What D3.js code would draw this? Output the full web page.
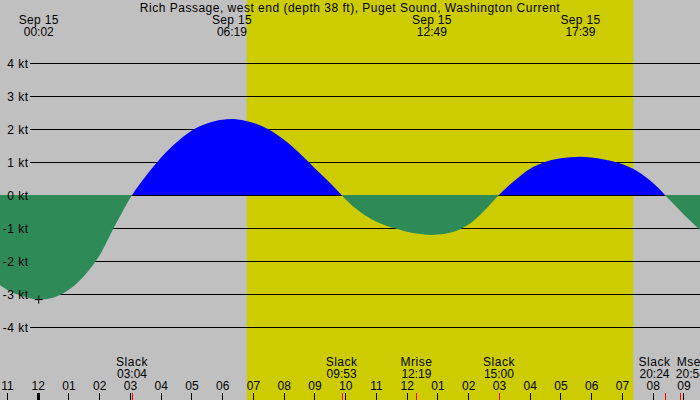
<!DOCTYPE html>
<html><head><meta charset="utf-8">
<script src="https://cdn.jsdelivr.net/npm/d3@7"></script>
<style>
html,body{margin:0;padding:0;background:#c0c0c0;overflow:hidden}
svg{display:block;font-family:"Liberation Sans",Arial,sans-serif;font-size:12px}
.wide{letter-spacing:0.5px}
</style></head><body>
<svg id="chart" width="700" height="400"></svg>
<script>
// ---- data ----
const title = "Rich Passage, west end (depth 38 ft), Puget Sound, Washington Current";
const dayLabel = "Sep 15";
const viewHours = [-1.226, 21.538];            // visible span, hours from midnight Sep 15
const daylight = ["06:48", "19:22"];            // sunrise, sunset
const curveHours = [-1.23, -1.0, -0.5, 0.03, 0.5, 1.0, 1.5, 2.0, 2.5, 3.07,
  3.5, 4.0, 4.5, 5.0, 5.5, 6.0, 6.32, 6.5, 7.0, 7.5, 8.0, 8.5, 9.0, 9.5, 9.88,
  10.0, 10.5, 11.0, 11.5, 12.0, 12.5, 12.82, 13.0, 13.5, 14.0, 14.5, 15.0,
  15.5, 16.0, 16.5, 17.0, 17.65, 18.0, 18.5, 19.0, 19.5, 20.0, 20.4,
  20.5, 21.0, 21.54];
const curveKnots = [-2.73, -2.87, -3.06, -3.17, -3.11, -2.88, -2.46, -1.85, -0.95, 0,
  0.55, 1.12, 1.58, 1.95, 2.17, 2.28, 2.30, 2.29, 2.19, 1.99, 1.68, 1.28, 0.82, 0.37, 0,
  -0.12, -0.52, -0.80, -0.98, -1.11, -1.19, -1.21, -1.20, -1.12, -0.90, -0.50, 0,
  0.43, 0.79, 1.00, 1.11, 1.16, 1.14, 1.06, 0.94, 0.72, 0.37, 0,
  -0.10, -0.58, -1.06];
const extremaTimes = ["00:02", "06:19", "12:49", "17:39"];
const markerTime = "00:02";
const markerKnots = -3.17;
const eventNames = ["Slack", "Slack", "Mrise", "Slack", "Slack", "Mset"];
const eventTimes = ["03:04", "09:53", "12:19", "15:00", "20:24", "20:54"];
const knotTicks = [4, 3, 2, 1, 0, -1, -2, -3, -4];

// ---- helpers ----
const base = new Date(2024, 8, 15, 0, 0, 0);
const fromHours = h => new Date(base.getTime() + h * 3600e3);
const parseT = d3.timeParse("%Y-%m-%d %H:%M");
const fromClock = s => parseT("2024-09-15 " + s);

const W = 700, H = 400;
const svg = d3.select("#chart");

const x = d3.scaleTime().domain(viewHours.map(fromHours)).range([0, W]);
const y = d3.scaleLinear().domain([-4, 4]).range([327, 63]);

// background & daylight
svg.append("rect").attr("width", W).attr("height", H).attr("fill", "#c0c0c0");
svg.append("rect")
  .attr("x", x(fromClock(daylight[0]))).attr("y", 0)
  .attr("width", x(fromClock(daylight[1])) - x(fromClock(daylight[0])))
  .attr("height", H).attr("fill", "#cccc00");

// grid lines
svg.append("g").selectAll("line").data(knotTicks).join("line")
  .attr("x1", 30).attr("x2", W)
  .attr("y1", d => y(d) + 0.5).attr("y2", d => y(d) + 0.5)
  .attr("stroke", "#000").attr("stroke-width", 1)
  .attr("shape-rendering", "crispEdges");

// current area
const pts = curveHours.map((h, i) => ({ t: fromHours(h), v: curveKnots[i] }));
const area = d3.area().x(d => x(d.t)).y0(y(0)).y1(d => y(d.v)).curve(d3.curveMonotoneX);
const defs = svg.append("defs");
defs.append("clipPath").attr("id", "above").append("rect")
  .attr("x", 0).attr("y", 0).attr("width", W).attr("height", y(0));
defs.append("clipPath").attr("id", "below").append("rect")
  .attr("x", 0).attr("y", y(0)).attr("width", W).attr("height", H - y(0));
svg.append("path").datum(pts).attr("d", area).attr("fill", "#0000ff").attr("clip-path", "url(#above)");
svg.append("path").datum(pts).attr("d", area).attr("fill", "#2e8b57").attr("clip-path", "url(#below)");

// y labels
svg.append("g").selectAll("text").data(knotTicks).join("text")
  .attr("class", "wide")
  .attr("x", 28.5).attr("y", d => y(d) + 0.5).attr("dy", "0.35em")
  .attr("text-anchor", "end").attr("fill", "#000")
  .text(d => d + " kt");

// marker
const mx = x(fromClock(markerTime)), my = y(markerKnots);
svg.append("path")
  .attr("d", `M${mx - 4},${my}h8M${mx},${my - 4}v8`)
  .attr("stroke", "#000").attr("stroke-width", 1).attr("fill", "none");

// title
svg.append("text").attr("class", "wide").attr("x", W / 2).attr("y", 11.5)
  .attr("text-anchor", "middle").text(title);

// extrema labels
const topLabels = svg.append("g").selectAll("g").data(extremaTimes).join("g")
  .attr("transform", d => `translate(${x(fromClock(d))},0)`);
topLabels.append("text").attr("y", 23.5).attr("text-anchor", "middle")
  .attr("letter-spacing", "0.3px").text(dayLabel);
topLabels.append("text").attr("y", 36).attr("text-anchor", "middle").text(d => d);

// hour axis
const hourTicks = d3.timeHour.range(fromHours(-1), fromHours(21.6));
const axis = d3.axisTop(x).tickValues(hourTicks).tickSize(7).tickPadding(3)
  .tickFormat(d3.timeFormat("%I"));
const gAx = svg.append("g").attr("transform", `translate(0,${H})`).call(axis);
gAx.select(".domain").remove();
gAx.selectAll("text").attr("font-size", 12).attr("font-family", null).attr("fill", "#000");
gAx.selectAll("line").attr("stroke", "#000").attr("shape-rendering", "crispEdges")
  .attr("stroke-width", d => (d.getHours() === 0 ? 3 : 1));

// event ticks
svg.append("g").selectAll("line").data(eventTimes).join("line")
  .attr("x1", d => Math.round(x(fromClock(d))) + 0.5)
  .attr("x2", d => Math.round(x(fromClock(d))) + 0.5)
  .attr("y1", H - 7).attr("y2", H)
  .attr("stroke", "#ff0000").attr("stroke-width", 1).attr("shape-rendering", "crispEdges");

// event labels with collision avoidance
const evG = svg.append("g").selectAll("g").data(eventNames.map((n, i) => ({ n, t: eventTimes[i] }))).join("g");
evG.append("text").attr("class", "wide").attr("y", 366).attr("text-anchor", "middle").text(d => d.n);
evG.append("text").attr("y", 378).attr("text-anchor", "middle").text(d => d.t);
const items = [];
evG.each(function (d) {
  const bb = this.getBBox();
  items.push({ node: this, c: x(fromClock(d.t)), w: bb.width });
});
for (let iter = 0; iter < 20; iter++) {
  for (let i = 0; i < items.length - 1; i++) {
    const a = items[i], b = items[i + 1];
    const need = (a.w + b.w) / 2 + 5;
    const gap = b.c - a.c;
    if (gap < need) { const s = (need - gap) / 2; a.c -= s; b.c += s; }
  }
}
items.forEach(it => d3.select(it.node).attr("transform", `translate(${it.c},0)`));
</script>
</body></html>
